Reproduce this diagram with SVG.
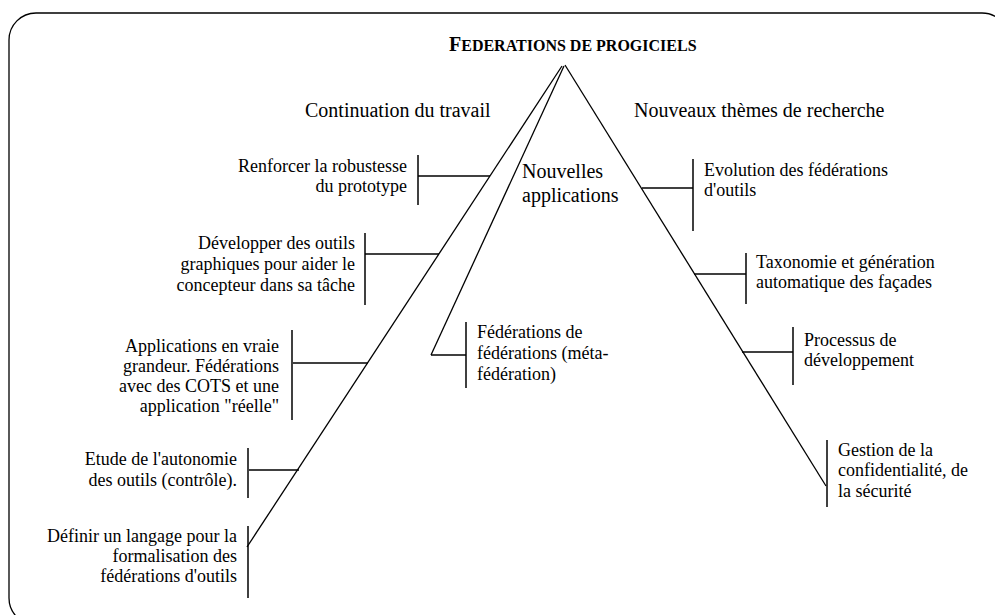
<svg xmlns="http://www.w3.org/2000/svg" width="995" height="615" viewBox="0 0 995 615">
<style>
text{font-family:"Liberation Serif","Times New Roman",serif;fill:#000}
.b{font-size:18px}
.h{font-size:20px}
.r{text-anchor:end}
.ln{stroke:#000;stroke-width:1.3;fill:none}
.bar{stroke:#000;stroke-width:1.5;fill:none}
</style>
<rect x="9" y="13" width="1000" height="612" rx="27" ry="27" fill="#fff" stroke="#000" stroke-width="1.3"/>
<g id="title">
<text x="449" y="51" font-weight="bold" font-size="20">F<tspan font-size="16">EDERATIONS DE PROGICIELS</tspan></text>
</g>
<g id="connectors">
<line class="ln" x1="562" y1="66" x2="247" y2="547"/>
<line class="ln" x1="564" y1="66" x2="431" y2="355"/>
<line class="ln" x1="431" y1="355" x2="466" y2="355"/>
<line class="ln" x1="565" y1="65" x2="826" y2="486"/>
<line class="ln" x1="418" y1="176" x2="490" y2="176"/>
<line class="ln" x1="365" y1="254" x2="439" y2="254"/>
<line class="ln" x1="293" y1="363" x2="368" y2="363"/>
<line class="ln" x1="249" y1="470" x2="299" y2="470"/>
<line class="ln" x1="642" y1="188" x2="693" y2="188"/>
<line class="ln" x1="694" y1="274" x2="746" y2="274"/>
<line class="ln" x1="742" y1="352" x2="793" y2="352"/>
</g>
<g id="heading-left"><text class="h" x="305" y="117">Continuation du travail</text></g>
<g id="heading-right"><text class="h" x="634" y="117">Nouveaux thèmes de recherche</text></g>
<g id="heading-middle"><text class="h" x="522" y="178">Nouvelles</text><text class="h" x="522" y="202">applications</text></g>
<g id="node-renforcer">
<line class="bar" x1="418" y1="155" x2="418" y2="205"/>
<text class="b r" x="407" y="172">Renforcer la robustesse</text>
<text class="b r" x="407" y="192">du prototype</text>
</g>
<g id="node-developper">
<line class="bar" x1="365" y1="233" x2="365" y2="305"/>
<text class="b r" x="355" y="249">Développer des outils</text>
<text class="b r" x="355" y="270">graphiques pour aider le</text>
<text class="b r" x="355" y="291">concepteur dans sa tâche</text>
</g>
<g id="node-applications">
<line class="bar" x1="292" y1="330" x2="292" y2="420"/>
<text class="b r" x="279" y="352">Applications en vraie</text>
<text class="b r" x="279" y="372">grandeur. Fédérations</text>
<text class="b r" x="279" y="392">avec des COTS et une</text>
<text class="b r" x="279" y="412">application "réelle"</text>
</g>
<g id="node-etude">
<line class="bar" x1="248" y1="448" x2="248" y2="498"/>
<text class="b r" x="237" y="465">Etude de l'autonomie</text>
<text class="b r" x="237" y="486">des outils (contrôle).</text>
</g>
<g id="node-definir">
<line class="bar" x1="248" y1="526" x2="248" y2="598"/>
<text class="b r" x="237" y="542">Définir un langage pour la</text>
<text class="b r" x="237" y="562">formalisation des</text>
<text class="b r" x="237" y="582">fédérations d'outils</text>
</g>
<g id="node-meta">
<line class="bar" x1="466" y1="322" x2="466" y2="388"/>
<text class="b" x="477" y="338">Fédérations de</text>
<text class="b" x="477" y="359">fédérations (méta-</text>
<text class="b" x="477" y="380">fédération)</text>
</g>
<g id="node-evolution">
<line class="bar" x1="693" y1="159" x2="693" y2="231"/>
<text class="b" x="704" y="176">Evolution des fédérations</text>
<text class="b" x="704" y="196">d'outils</text>
</g>
<g id="node-taxonomie">
<line class="bar" x1="746" y1="253" x2="746" y2="304"/>
<text class="b" x="756" y="268">Taxonomie et génération</text>
<text class="b" x="756" y="288">automatique des façades</text>
</g>
<g id="node-processus">
<line class="bar" x1="793" y1="327" x2="793" y2="385"/>
<text class="b" x="804" y="346">Processus de</text>
<text class="b" x="804" y="366">développement</text>
</g>
<g id="node-gestion">
<line class="bar" x1="827" y1="440" x2="827" y2="507"/>
<text class="b" x="838" y="456">Gestion de la</text>
<text class="b" x="838" y="476">confidentialité, de</text>
<text class="b" x="838" y="497">la sécurité</text>
</g>
</svg>
